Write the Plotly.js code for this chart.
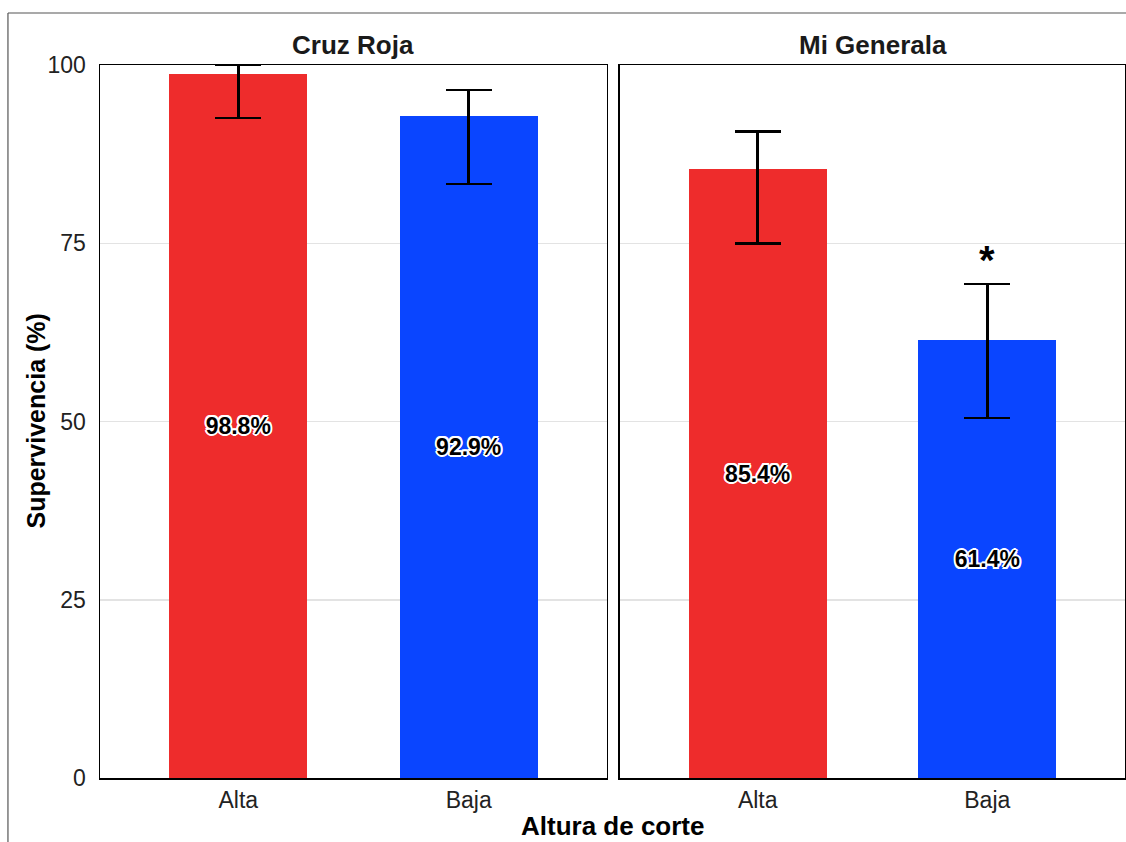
<!DOCTYPE html>
<html>
<head>
<meta charset="utf-8">
<script src="https://cdn.plot.ly/plotly-3.0.1.min.js"></script>
<style>html,body{margin:0;padding:0;background:#fff;}#chart{width:1126px;height:842px;}</style>
</head>
<body>
<div id="chart"></div>
<script>
// Data
const sites = ["Cruz Roja", "Mi Generala"];
const categories = ["Alta", "Baja"];
const crValues = [98.8, 92.9];
const crUpper = [100, 96.5];
const crLower = [92.6, 83.3];
const mgValues = [85.4, 61.4];
const mgUpper = [90.7, 69.3];
const mgLower = [75.0, 50.5];
const tickVals = [0, 25, 50, 75, 100];
const tickText = ["0", "25", "50", "75", "100"];
const colors = ["#EE2C2C", "#0A45FF"];

const FONT = "Liberation Sans, Arial, sans-serif";
const labelShadow = "2px 0 0 #fff, -2px 0 0 #fff, 0 2px 0 #fff, 0 -2px 0 #fff, 1.5px 1.5px 0 #fff, -1.5px -1.5px 0 #fff, 1.5px -1.5px 0 #fff, -1.5px 1.5px 0 #fff";

function makeTrace(values, upper, lower, xa, ya) {
  return {
    type: "bar",
    x: categories,
    y: values,
    xaxis: xa, yaxis: ya,
    width: 0.6,
    marker: {color: colors, line: {width: 0}},
    text: values.map(v => v.toFixed(1) + "%"),
    textposition: "inside",
    insidetextanchor: "middle",
    textangle: 0,
    textfont: {family: FONT, size: 23, color: "#000", weight: "bold", shadow: labelShadow},
    error_y: {
      type: "data", symmetric: false,
      array: upper.map((u, i) => u - values[i]),
      arrayminus: values.map((v, i) => v - lower[i]),
      color: "#000", thickness: 2.5, width: 23
    },
    hoverinfo: "none",
    showlegend: false
  };
}

const traces = [
  makeTrace(crValues, crUpper, crLower, "x", "y"),
  makeTrace(mgValues, mgUpper, mgLower, "x2", "y2")
];

const xBase = {
  type: "category", range: [-0.6, 1.6],
  showline: true, mirror: true, linecolor: "#000", linewidth: 1.5,
  ticks: "", showgrid: false, zeroline: false,
  tickfont: {family: FONT, size: 23, color: "#222"},
  ticklabelstandoff: 1, fixedrange: true
};
const yBase = {
  range: [0, 100], tickvals: tickVals, ticktext: tickText,
  showline: true, mirror: true, linecolor: "#000", linewidth: 1.5,
  ticks: "", showgrid: true, gridcolor: "#e3e3e3", gridwidth: 1.5, zeroline: false,
  tickfont: {family: FONT, size: 23, color: "#222"},
  ticklabelstandoff: 8, fixedrange: true
};

const layout = {
  width: 1126, height: 842,
  margin: {l: 100, r: 1, t: 65, b: 64},
  paper_bgcolor: "#fff", plot_bgcolor: "#fff",
  bargap: 0,
  xaxis: Object.assign({}, xBase, {domain: [0, 0.4946], anchor: "y"}),
  xaxis2: Object.assign({}, xBase, {domain: [0.5073, 1], anchor: "y2"}),
  yaxis: Object.assign({}, yBase, {anchor: "x"}),
  yaxis2: Object.assign({}, yBase, {anchor: "x2", showticklabels: false}),
  annotations: [
    {text: "<b>" + sites[0] + "</b>", xref: "paper", yref: "paper", x: 0.2473, xanchor: "center", y: 1, yanchor: "bottom", yshift: 3, showarrow: false, font: {family: FONT, size: 26, color: "#1a1a1a"}},
    {text: "<b>" + sites[1] + "</b>", xref: "paper", yref: "paper", x: 0.7537, xanchor: "center", y: 1, yanchor: "bottom", yshift: 3, showarrow: false, font: {family: FONT, size: 26, color: "#1a1a1a"}},
    {text: "<b>Altura de corte</b>", xref: "paper", yref: "paper", x: 0.5, xanchor: "center", y: 0, yanchor: "top", yshift: -31, showarrow: false, font: {family: FONT, size: 26, color: "#000"}},
    {text: "<b>Supervivencia (%)</b>", xref: "paper", yref: "paper", x: 0, xanchor: "center", xshift: -65, y: 0.5, yanchor: "middle", textangle: -90, showarrow: false, font: {family: FONT, size: 25, color: "#000"}},
    {text: "<b>*</b>", xref: "x2", yref: "y2", x: categories[1], y: mgUpper[1], xanchor: "center", yanchor: "bottom", yshift: 0, showarrow: false, font: {family: FONT, size: 40, color: "#000"}}
  ],
  shapes: [
    {type: "line", xref: "paper", yref: "paper", x0: -0.0898, x1: 1.01, y0: 1.0729, y1: 1.0729, line: {color: "#555", width: 1.2}},
    {type: "line", xref: "paper", yref: "paper", x0: -0.0898, x1: -0.0898, y0: 1.0729, y1: -0.1, line: {color: "#555", width: 1.2}}
  ]
};

Plotly.newPlot("chart", traces, layout, {displayModeBar: false, staticPlot: true});
</script>
</body>
</html>
